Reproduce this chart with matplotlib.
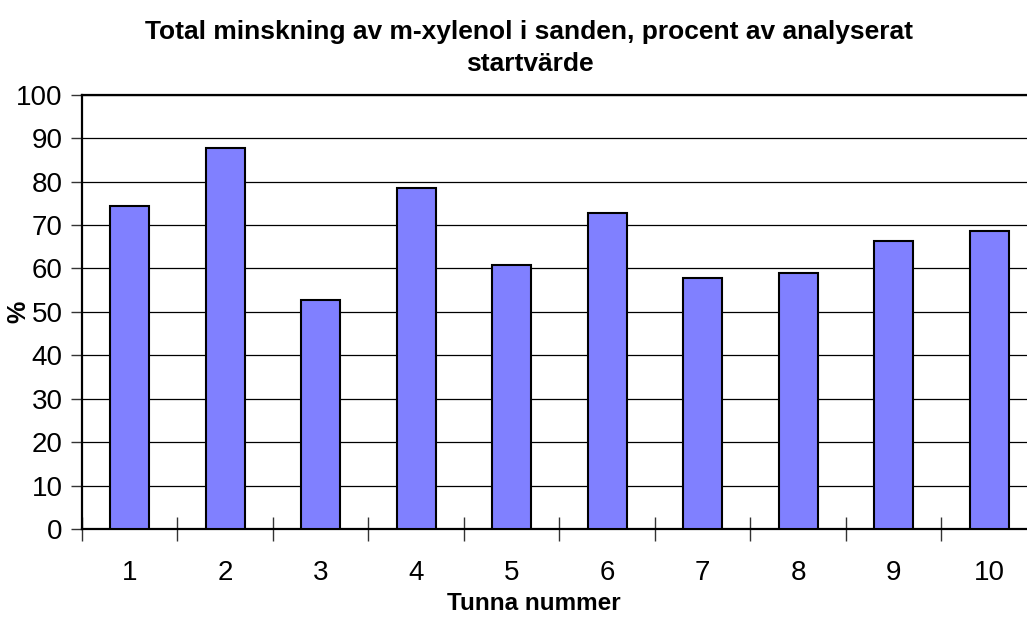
import numpy as np
import matplotlib.pyplot as plt

plt.rcParams['font.family'] = ['Liberation Sans', 'DejaVu Sans']

# Tunna nummer och total minskning i procent
tunnor = ['1', '2', '3', '4', '5', '6', '7', '8', '9', '10']
minskning = [74.4, 87.8, 52.8, 78.6, 60.8, 72.8, 57.8, 59.0, 66.4, 68.6]

fig = plt.figure(figsize=(10.27, 6.2), dpi=100)
# the plot area runs a bit past the right edge in the original
ax = fig.add_axes([0.0798, 0.1468, 0.9299, 0.7005])

x = np.arange(len(tunnor))
ax.bar(x, minskning, width=0.41, color='#8080FF', edgecolor='black', linewidth=1.5, zorder=3)

ax.set_xlim(-0.5, len(tunnor) - 0.5)
ax.set_ylim(0, 100)
ax.set_yticks(np.arange(0, 101, 10))
ax.yaxis.grid(True, color='black', linewidth=0.9, zorder=0)

# category labels centered, ticks on the boundaries
ax.set_xticks(x)
ax.set_xticklabels(tunnor)
ax.tick_params(axis='x', which='major', length=0, pad=22, labelsize=20)
ax.set_xticks(np.arange(-0.5, len(tunnor), 1), minor=True)
ax.tick_params(axis='x', which='minor', direction='inout', length=17, width=1, color='#333333')
ax.tick_params(axis='y', length=8, width=1, labelsize=20, pad=6, color='#333333')

for s in ['left', 'bottom', 'top']:
    ax.spines[s].set_linewidth(1.6)
ax.spines['right'].set_visible(False)

fig.text(0.5155, 0.9225, 'Total minskning av m-xylenol i sanden, procent av analyserat\nstartvärde',
         ha='center', va='center', fontsize=19, fontweight='bold', linespacing=1.4)
fig.text(0.52, 0.026, 'Tunna nummer', ha='center', va='center', fontsize=17.5, fontweight='bold')
fig.text(0.018, 0.497, '%', ha='center', va='center', rotation=90, fontsize=18, fontweight='bold')

fig.savefig('out.png', dpi=100)
